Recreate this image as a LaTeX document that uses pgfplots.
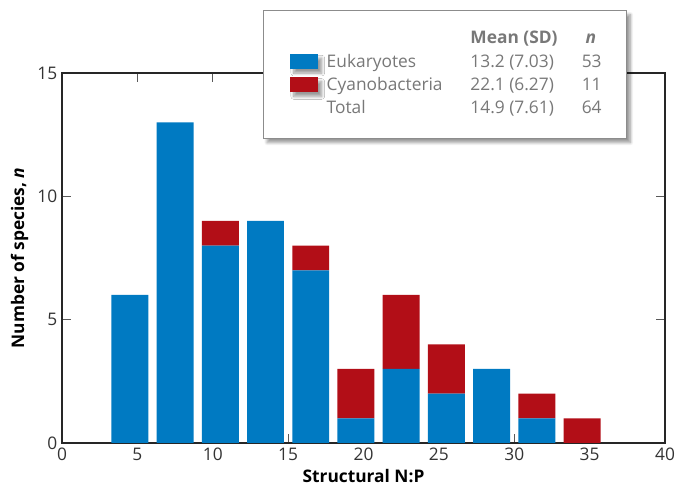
\documentclass[border=0pt]{standalone}
\usepackage{pgfplots}
\pgfplotsset{compat=1.18}
\usepackage{fontspec}
\setmainfont{Open Sans}
\usetikzlibrary{shadows.blur}
\definecolor{euk}{RGB}{0,122,194}
\definecolor{cyano}{RGB}{178,14,23}
\definecolor{legtext}{RGB}{120,120,120}
\pgfplotsset{swatch/.style={legend image code/.code={\fill[##1] (0pt,-4.6pt) rectangle (21pt,6.6pt);}}}
\newcommand\legrow[3]{\rule[-5.5pt]{0pt}{17.5pt}\makebox[107.8pt][l]{#1}\makebox[83.5pt][l]{#2}\makebox[13.5pt][l]{#3}}
\begin{document}
\begin{tikzpicture}[font=\fontsize{13}{15}\selectfont]
\begin{axis}[
  at={(0,0)}, anchor=south west,
  scale only axis, width=452.25pt, height=277.5pt,
  xmin=0, xmax=40, ymin=0, ymax=15,
  xtick={0,5,...,40}, ytick={0,5,10,15},
  tick align=inside, major tick length=6.5pt,
  tick style={black!65, line width=0.8pt},
  axis line style={black!85, line width=0.9pt},
  ybar stacked, bar width=2.45,
  xlabel={\bfseries Structural N:P},
  ylabel={\bfseries Number of species, \itshape n},
  /pgf/number format/assume math mode=true,
  tick label style={font=\fontsize{13}{15}\selectfont, text=black!80},
  legend cell align=left,
  legend style={at={(0.937,1.170)}, anchor=north east,
    draw=black!45, line width=0.8pt, fill=white,
    blur shadow={shadow xshift=3pt, shadow yshift=-3pt, shadow blur steps=8},
    inner xsep=20pt, inner ysep=13pt, column sep=6.75pt, row sep=0pt,
    nodes={inner sep=0pt, text height=12pt, text depth=5.5pt, text=legtext},
    font=\fontsize{13}{15}\selectfont},
]
\addlegendimage{empty legend}
\addlegendentry{\legrow{}{\bfseries Mean (SD)}{\makebox[13.5pt][c]{\bfseries\itshape n}}}
\addplot[fill=euk, draw=none, swatch]
  coordinates {(4.5,6) (7.5,13) (10.5,8) (13.5,9) (16.5,7) (19.5,1) (22.5,3) (25.5,2) (28.5,3) (31.5,1) (34.5,0)};
\addlegendentry{\legrow{Eukaryotes}{13.2 (7.03)}{53}}
\addplot[fill=cyano, draw=none, swatch]
  coordinates {(4.5,0) (7.5,0) (10.5,1) (13.5,0) (16.5,1) (19.5,2) (22.5,3) (25.5,2) (28.5,0) (31.5,1) (34.5,1)};
\addlegendentry{\legrow{Cyanobacteria}{22.1 (6.27)}{11}}
\addlegendimage{empty legend}
\addlegendentry{\legrow{Total}{14.9 (7.61)}{64}}
\end{axis}
\pgfresetboundingbox
\path[use as bounding box] (current axis.south west) ++(-46.5pt,-34.5pt) rectangle ++(507pt,366.75pt);
\end{tikzpicture}
\end{document}
